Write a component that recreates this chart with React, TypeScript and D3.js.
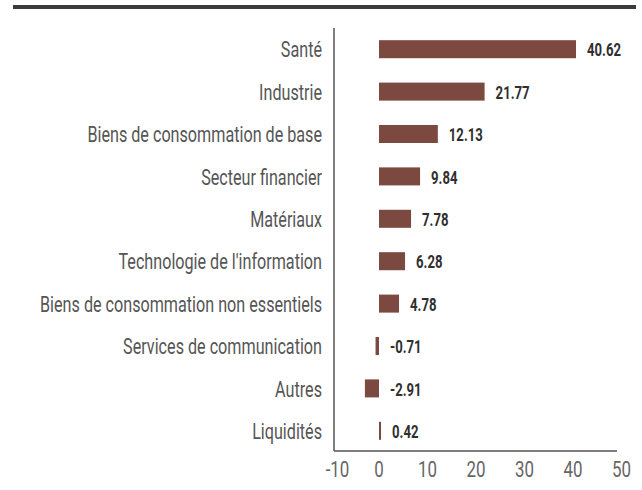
import React, { useEffect } from "react";
import * as d3 from "d3";

const categories = [
  "Santé",
  "Industrie",
  "Biens de consommation de base",
  "Secteur financier",
  "Matériaux",
  "Technologie de l'information",
  "Biens de consommation non essentiels",
  "Services de communication",
  "Autres",
  "Liquidités",
];
// bar lengths as drawn in the reference
const barValues = [40.62, 21.77, 12.13, 8.47, 6.61, 5.37, 4.13, -0.71, -2.91, 0.42];
// printed value labels
const valueLabels = ["40.62", "21.77", "12.13", "9.84", "7.78", "6.28", "4.78", "-0.71", "-2.91", "0.42"];
const xTicks = [-10, 0, 10, 20, 30, 40, 50];

const W = 642;
const H = 490;
const FONT = "Roboto";

let ctx: CanvasRenderingContext2D | null = null;
function measure(text: string, font: string): number {
  if (!ctx) ctx = document.createElement("canvas").getContext("2d");
  ctx!.font = font;
  return ctx!.measureText(text).width;
}

const CAT_SIZE = 22;
const VAL_SIZE = 19;
const TICK_SIZE = 22.5;

function CText(props: {
  x: number;
  y: number;
  sx: number;
  anchor: string;
  size: number;
  weight: number;
  fill: string;
  children: any;
}) {
  return (
    <text
      transform={`translate(${props.x},${props.y}) scale(${props.sx},1)`}
      textAnchor={props.anchor}
      fontFamily={FONT}
      fontSize={props.size}
      fontWeight={props.weight}
      fill={props.fill}
    >
      {props.children}
    </text>
  );
}

export default function App() {
  useEffect(() => {
    document.body.style.margin = "0";
  }, []);

  const catScale = 282 / measure("Biens de consommation non essentiels", `400 ${CAT_SIZE}px Roboto`);
  const valScale = 34 / measure("40.62", `700 ${VAL_SIZE}px Roboto`);
  const tickScale = 19 / measure("40", `400 ${TICK_SIZE}px Roboto`);

  const x = d3.scaleLinear().domain([-10, 50]).range([330.5, 621.5]);
  const y = d3
    .scaleBand<string>()
    .domain(categories)
    .range([28, 452])
    .paddingInner(0.575)
    .paddingOuter(0.2875);

  const axisLeft = 334;
  const axisRight = 617;
  const axisBottom = 451;

  return (
    <svg width={W} height={H} style={{ display: "block" }}>
      <rect x={13} y={5} width={623} height={4} fill="#3c3c3c" />
      {categories.map((c, i) => {
        const v = barValues[i];
        const y0 = y(c)!;
        const bw = y.bandwidth();
        const cy = y0 + bw / 2;
        return (
          <g key={c}>
            <rect
              x={x(Math.min(0, v))}
              y={y0}
              width={Math.abs(x(v) - x(0))}
              height={bw}
              fill="#7c4940"
            />
            <CText
              x={axisLeft - 12}
              y={cy + 0.37 * CAT_SIZE}
              sx={catScale}
              anchor="end"
              size={CAT_SIZE}
              weight={400}
              fill="#555"
            >
              {c}
            </CText>
            <CText
              x={x(Math.max(0, v)) + 11}
              y={cy + 0.38 * VAL_SIZE}
              sx={valScale}
              anchor="start"
              size={VAL_SIZE}
              weight={700}
              fill="#2f2f2f"
            >
              {valueLabels[i]}
            </CText>
          </g>
        );
      })}
      <line x1={axisLeft} x2={axisLeft} y1={28} y2={axisBottom} stroke="#555" strokeWidth={1.5} />
      <line x1={axisLeft} x2={axisRight} y1={axisBottom} y2={axisBottom} stroke="#555" strokeWidth={1.5} />
      {xTicks.map((t, i) => (
        <CText
          key={t}
          x={x(t) + (i === 0 ? 7 : 0)}
          y={477}
          sx={tickScale}
          anchor="middle"
          size={TICK_SIZE}
          weight={400}
          fill="#666"
        >
          {t}
        </CText>
      ))}
    </svg>
  );
}
